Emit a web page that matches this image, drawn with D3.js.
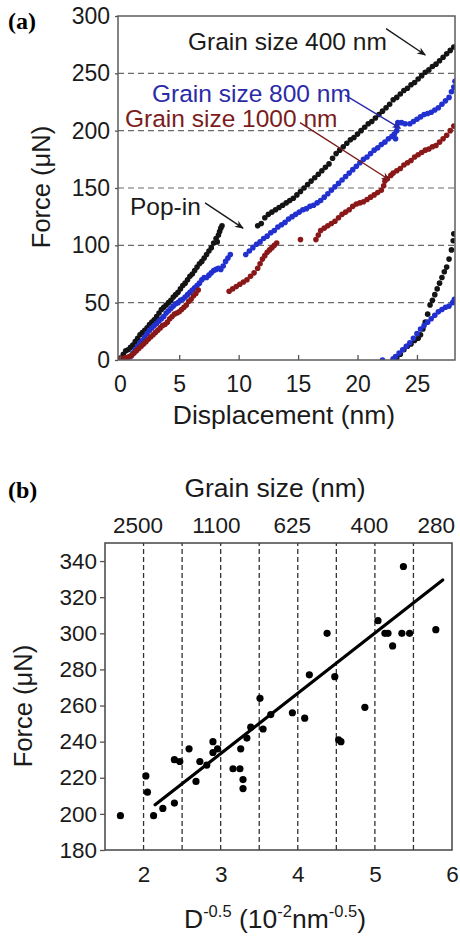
<!DOCTYPE html>
<html>
<head>
<meta charset="utf-8">
<script src="https://cdn.jsdelivr.net/npm/d3@7"></script>
<style>
  body { margin: 0; background: #fff; }
  svg { display: block; font-family: "Liberation Sans", Arial, sans-serif; }
</style>
</head>
<body>
<svg id="chart" width="460" height="938"></svg>
<script>
// ---- panel (a) data: displacement (nm), force (uN) ----
const grain400 = [
  [0.1, 2], [0.3, 5], [0.5, 8], [0.7, 9], [0.9, 11], [1.1, 13], [1.3, 16], [1.5, 19], [1.7, 22], [1.9, 24],
  [2.1, 26], [2.3, 28], [2.5, 31], [2.7, 33], [2.9, 35], [3.1, 38], [3.3, 41], [3.5, 44], [3.7, 46], [3.9, 48],
  [4.1, 50], [4.3, 52], [4.5, 55], [4.7, 57], [4.9, 59], [5.1, 62], [5.3, 65], [5.5, 67], [5.7, 70], [5.9, 73],
  [6.1, 75], [6.3, 78], [6.5, 81], [6.7, 84], [6.9, 86], [7.1, 89], [7.3, 92], [7.5, 95], [7.7, 98], [7.9, 102],
  [8.1, 106], [8.2, 103], [8.3, 109], [8.4, 112], [8.5, 115], [8.6, 117],
  [11.6, 117], [11.9, 119], [12.2, 124], [12.5, 127], [12.8, 129], [13.1, 131], [13.4, 133], [13.7, 135],
  [14.0, 137], [14.3, 139], [14.6, 141], [14.9, 144], [15.2, 147], [15.5, 150], [15.8, 153], [16.1, 156],
  [16.4, 159], [16.7, 162], [17.0, 165], [17.3, 168], [17.6, 171], [17.9, 176], [18.2, 180], [18.5, 183],
  [18.8, 186], [19.1, 189], [19.4, 192], [19.7, 194], [20.0, 197], [20.3, 200], [20.6, 203], [20.9, 206],
  [21.2, 208], [21.5, 211], [21.8, 214], [22.1, 217], [22.4, 220], [22.7, 223], [23.0, 227], [23.3, 229],
  [23.6, 232], [23.9, 235], [24.2, 237], [24.5, 240], [24.8, 242], [25.1, 245], [25.4, 248], [25.7, 251],
  [26.0, 253], [26.3, 256], [26.6, 258], [26.9, 261], [27.2, 264], [27.5, 267], [27.8, 270], [28.1, 273],
  [23.0, 0], [23.3, 2], [23.6, 5], [23.9, 9], [24.2, 12], [24.5, 14], [24.8, 17], [25.1, 19], [25.3, 22],
  [25.5, 27], [25.7, 33], [25.9, 40], [26.1, 48], [26.3, 52], [26.5, 57], [26.7, 62], [26.9, 67], [27.1, 72],
  [27.3, 77], [27.5, 81], [27.7, 88], [27.9, 96], [28.05, 104], [28.1, 110]
];

const grain800 = [
  [0.6, 1], [0.9, 3], [1.1, 6], [1.3, 9], [1.5, 12], [1.7, 15], [1.9, 17], [2.1, 20], [2.3, 23], [2.5, 26],
  [2.7, 28], [2.9, 30], [3.1, 32], [3.3, 34], [3.5, 36], [3.7, 38], [3.9, 41], [4.1, 43], [4.3, 45], [4.5, 47],
  [4.7, 49], [4.9, 50], [5.1, 52], [5.3, 53], [5.5, 55], [5.7, 57], [5.9, 59], [6.1, 61], [6.3, 63], [6.5, 65],
  [6.7, 67], [6.9, 70], [7.1, 72], [7.3, 72], [7.5, 74], [7.7, 76], [7.9, 78], [8.1, 79], [8.3, 80], [8.5, 79],
  [8.7, 82], [8.9, 86], [9.1, 89], [9.3, 92],
  [10.6, 92], [10.9, 95], [11.2, 98], [11.5, 101], [11.8, 103], [12.1, 106], [12.4, 108], [12.7, 111],
  [13.0, 113], [13.3, 116], [13.6, 118], [13.9, 120], [14.2, 123], [14.5, 125], [14.8, 127], [15.1, 129],
  [15.4, 131], [15.7, 132], [16.0, 134], [16.3, 135], [16.6, 137], [16.9, 139], [17.2, 142], [17.5, 145],
  [17.8, 148], [18.1, 151], [18.4, 154], [18.7, 157], [19.0, 160], [19.3, 163], [19.6, 166], [19.9, 169],
  [20.2, 172], [20.5, 175], [20.8, 177], [21.1, 180], [21.4, 183], [21.7, 185], [22.0, 188], [22.3, 190],
  [22.6, 193], [22.9, 195], [23.1, 197], [23.2, 193], [23.3, 200], [23.3, 204], [23.4, 207], [23.7, 207],
  [24.0, 206], [24.4, 206], [24.7, 208], [25.0, 210], [25.3, 212], [25.6, 214], [25.9, 215], [26.2, 216],
  [26.5, 218], [26.8, 220], [27.1, 223], [27.4, 226], [27.7, 229], [27.9, 234], [28.1, 238], [28.2, 243],
  [22.1, 0], [23.0, 1], [23.2, 3], [23.5, 6], [23.8, 9], [24.1, 12], [24.4, 15], [24.7, 19], [25.0, 23],
  [25.3, 27], [25.6, 30], [25.9, 33], [26.2, 36], [26.5, 39], [26.8, 42], [27.1, 44], [27.4, 46], [27.7, 47],
  [28.0, 50], [28.15, 53]
];

const grain1000 = [
  [0.0, 1], [0.2, 1], [0.4, 2], [0.6, 2], [0.8, 3], [1.0, 4], [1.2, 6], [1.4, 8], [1.6, 10], [1.8, 12],
  [2.0, 14], [2.2, 16], [2.4, 18], [2.6, 20], [2.8, 22], [3.0, 24], [3.2, 26], [3.4, 28], [3.6, 30], [3.8, 31],
  [4.0, 33], [4.2, 36], [4.4, 38], [4.6, 40], [4.8, 41], [5.0, 42], [5.2, 44], [5.4, 46], [5.6, 48], [5.8, 51],
  [6.0, 53], [6.2, 56], [6.4, 58], [6.6, 61],
  [9.2, 60], [9.5, 62], [9.8, 64], [10.1, 66], [10.4, 68], [10.7, 70], [11.0, 73], [11.3, 76], [11.6, 80],
  [11.8, 84], [12.0, 88], [12.2, 91], [12.4, 94], [12.6, 96], [12.8, 98], [13.0, 100], [13.2, 102],
  [15.2, 105],
  [16.5, 105], [16.7, 109], [16.9, 113], [17.2, 115], [17.5, 117], [17.8, 119], [18.1, 121], [18.4, 124],
  [18.7, 127], [19.0, 129], [19.3, 131], [19.6, 134], [19.9, 136], [20.2, 137], [20.5, 138], [20.8, 140],
  [21.1, 142], [21.4, 144], [21.7, 146], [22.0, 148], [22.2, 152], [22.3, 156], [22.5, 158], [22.8, 161],
  [23.0, 163], [23.3, 165], [23.6, 167], [23.9, 170], [24.2, 172], [24.5, 174], [24.8, 177], [25.1, 179],
  [25.4, 181], [25.7, 183], [26.0, 184], [26.3, 186], [26.6, 187], [26.9, 190], [27.2, 193], [27.5, 196],
  [27.8, 200], [28.1, 204]
];

const aTicksX = [0, 5, 10, 15, 20, 25];
const aTicksY = [0, 50, 100, 150, 200, 250, 300];
const aGrid = [50, 100, 150, 200, 250];

// annotations in data units: text start, arrow from -> to
const aNotes = [
  { text: "Grain size 400 nm", color: "#1a1a1a", at: [5.74, 270], from: [22.4, 289], to: [25.7, 266] },
  { text: "Grain size 800 nm", color: "#2b2ba8", at: [2.71, 225], from: [18.95, 231], to: [23.6, 202] },
  { text: "Grain size 1000 nm", color: "#7b1c1c", at: [0.44, 203], from: [15.16, 207], to: [22.7, 157] },
  { text: "Pop-in", color: "#1a1a1a", at: [0.86, 126.5], from: [7.17, 137], to: [10.37, 115] }
];

// ---- panel (b) data: D^-0.5 (1e-2 nm^-0.5), force (uN) ----
const popInX = [1.70, 2.03, 2.05, 2.13, 2.25, 2.40, 2.40, 2.47, 2.59, 2.68, 2.73, 2.82, 2.90, 2.90, 2.96,
  3.16, 3.25, 3.26, 3.29, 3.29, 3.34, 3.39, 3.51, 3.55, 3.65, 3.93, 4.09, 4.15, 4.38, 4.48, 4.53, 4.56,
  4.87, 5.04, 5.13, 5.17, 5.23, 5.35, 5.37, 5.45, 5.79];
const popInF = [199, 221, 212, 199, 203, 206, 230, 229, 236, 218, 229, 227, 240, 234, 236,
  225, 225, 236, 219, 214, 242, 248, 264, 247, 255, 256, 253, 277, 300, 276, 241, 240,
  259, 307, 300, 300, 293, 300, 337, 300, 302];
const fitLine = [[2.15, 205], [5.88, 329.5]];
const bTicksX = [2, 3, 4, 5, 6];
const bTicksY = [180, 200, 220, 240, 260, 280, 300, 320, 340];
const bGrid = [2, 2.5, 3, 3.5, 4, 4.5, 5, 5.5];
const grainSizes = [2500, 1100, 625, 400, 280];

const svg = d3.select("#chart");
svg.append("rect").attr("width", 460).attr("height", 938).attr("fill", "#fff");

svg.append("defs")
  .selectAll("marker")
  .data(aNotes)
  .enter()
  .append("marker")
  .attr("id", (d, i) => `head${i}`)
  .attr("viewBox", "0 0 10 10")
  .attr("refX", 9)
  .attr("refY", 5)
  .attr("markerUnits", "userSpaceOnUse")
  .attr("markerWidth", 11)
  .attr("markerHeight", 9)
  .attr("orient", "auto")
  .append("path")
  .attr("d", "M0,1 L10,5 L0,9 L3,5 Z")
  .attr("fill", (d) => d.color);

function styleAxis(g, size) {
  g.select(".domain").remove();
  g.selectAll("text")
    .attr("font-size", size)
    .attr("fill", "#1a1a1a")
    .attr("font-family", "Liberation Sans, Arial, sans-serif");
  g.selectAll("line").attr("stroke", "#555").attr("stroke-width", 1.3);
}

function drawPanelA() {
  const x = d3.scaleLinear().domain([-0.15, 28.2]).range([118, 455]);
  const y = d3.scaleLinear().domain([0, 300]).range([360, 16]);
  const g = svg.append("g");

  g.selectAll(".gridA")
    .data(aGrid)
    .enter()
    .append("line")
    .attr("x1", x.range()[0])
    .attr("x2", x.range()[1])
    .attr("y1", (d) => y(d))
    .attr("y2", (d) => y(d))
    .attr("stroke", "#6a6a6a")
    .attr("stroke-width", 1.2)
    .attr("stroke-dasharray", "6,4");

  const series = [
    { pts: grain400, color: "#141414" },
    { pts: grain800, color: "#2130cf" },
    { pts: grain1000, color: "#8a1818" }
  ];
  // clip so points cut at the frame
  svg.select("defs").append("clipPath").attr("id", "clipA")
    .append("rect").attr("x", 118).attr("y", 16).attr("width", 337).attr("height", 344);

  const dots = g.append("g").attr("clip-path", "url(#clipA)");
  series.forEach((s) => {
    dots.selectAll(null)
      .data(s.pts)
      .enter()
      .append("circle")
      .attr("cx", (d) => x(d[0]))
      .attr("cy", (d) => y(d[1]))
      .attr("r", 2.8)
      .attr("fill", s.color);
  });

  g.append("rect")
    .attr("x", 118).attr("y", 16).attr("width", 337).attr("height", 344)
    .attr("fill", "none").attr("stroke", "#5c5c5c").attr("stroke-width", 1.5);

  g.append("g")
    .attr("transform", "translate(118,0)")
    .call(d3.axisLeft(y).tickValues(aTicksY).tickSize(3).tickPadding(5))
    .call(styleAxis, 23);

  g.append("g")
    .attr("transform", "translate(0,360)")
    .call(d3.axisBottom(x).tickValues(aTicksX).tickSizeInner(-5).tickSizeOuter(0).tickPadding(16))
    .call(styleAxis, 23);

  g.selectAll(".note")
    .data(aNotes)
    .enter()
    .append("text")
    .attr("x", (d) => x(d.at[0]))
    .attr("y", (d) => y(d.at[1]))
    .attr("font-size", 24.5)
    .attr("fill", (d) => d.color)
    .text((d) => d.text);

  g.selectAll(".arrow")
    .data(aNotes)
    .enter()
    .append("line")
    .attr("x1", (d) => x(d.from[0]))
    .attr("y1", (d) => y(d.from[1]))
    .attr("x2", (d) => x(d.to[0]))
    .attr("y2", (d) => y(d.to[1]))
    .attr("stroke", (d) => d.color)
    .attr("stroke-width", 1.4)
    .attr("marker-end", (d, i) => `url(#head${i})`);

  g.append("text")
    .attr("x", 284).attr("y", 424)
    .attr("text-anchor", "middle")
    .attr("font-size", 26.5)
    .attr("fill", "#1a1a1a")
    .text("Displacement (nm)");

  g.append("text")
    .attr("transform", "translate(50,187) rotate(-90)")
    .attr("text-anchor", "middle")
    .attr("font-size", 25.5)
    .attr("fill", "#1a1a1a")
    .text("Force (\u03bcN)");

  g.append("text")
    .attr("x", 8).attr("y", 29)
    .attr("font-family", "Liberation Serif, Times New Roman, serif")
    .attr("font-weight", "bold")
    .attr("font-size", 24)
    .text("(a)");
}

function drawPanelB() {
  const x = d3.scaleLinear().domain([1.5, 6]).range([105, 452]);
  const y = d3.scaleLinear().domain([180, 350]).range([850, 543]);
  const g = svg.append("g");

  g.selectAll(".gridB")
    .data(bGrid)
    .enter()
    .append("line")
    .attr("x1", (d) => x(d))
    .attr("x2", (d) => x(d))
    .attr("y1", y.range()[0])
    .attr("y2", y.range()[1])
    .attr("stroke", "#333")
    .attr("stroke-width", 1.3)
    .attr("stroke-dasharray", "5,3");

  const pts = popInX.map((v, i) => [v, popInF[i]]);

  g.append("line")
    .attr("x1", x(fitLine[0][0]))
    .attr("y1", y(fitLine[0][1]))
    .attr("x2", x(fitLine[1][0]))
    .attr("y2", y(fitLine[1][1]))
    .attr("stroke", "#000")
    .attr("stroke-width", 3.2)
    .attr("stroke-linecap", "round");

  g.selectAll(".pt")
    .data(pts)
    .enter()
    .append("circle")
    .attr("cx", (d) => x(d[0]))
    .attr("cy", (d) => y(d[1]))
    .attr("r", 3.6)
    .attr("fill", "#000");

  g.append("rect")
    .attr("x", 105).attr("y", 543).attr("width", 347).attr("height", 307)
    .attr("fill", "none").attr("stroke", "#444").attr("stroke-width", 1.5);

  g.append("g")
    .attr("transform", "translate(105,0)")
    .call(d3.axisLeft(y).tickValues(bTicksY).tickSize(5).tickPadding(3))
    .call(styleAxis, 22.5);

  g.append("g")
    .attr("transform", "translate(0,850)")
    .call(d3.axisBottom(x).tickValues(bTicksX).tickFormat(d3.format("d")).tickSize(0).tickPadding(16))
    .call(styleAxis, 22.5);

  // top axis: grain size D placed at D^-0.5
  const topAxis = g.append("g")
    .attr("transform", "translate(0,543)")
    .call(d3.axisTop(x).tickValues(grainSizes.map((d) => 100 / Math.sqrt(d)))
      .tickFormat((v, i) => grainSizes[i])
      .tickSize(0).tickPadding(10))
    .call(styleAxis, 22.5);
  // nudge labels left and keep the last one inside the picture
  topAxis.selectAll(".tick").each(function () {
    const t = d3.select(this).select("text");
    const b = t.node().getBBox();
    const tx = +d3.select(this).attr("transform").match(/translate\(([-\d.]+)/)[1];
    const over = Math.max(0, tx + b.x + b.width - 6 - 455);
    t.attr("dx", -6 - over);
  });

  g.append("text")
    .attr("x", 275).attr("y", 497)
    .attr("text-anchor", "middle")
    .attr("font-size", 26.5)
    .attr("fill", "#1a1a1a")
    .text("Grain size (nm)");

  g.append("text")
    .attr("transform", "translate(32,706) rotate(-90)")
    .attr("text-anchor", "middle")
    .attr("font-size", 25.5)
    .attr("fill", "#1a1a1a")
    .text("Force (\u03bcN)");

  const xt = g.append("text")
    .attr("x", 275).attr("y", 928)
    .attr("text-anchor", "middle")
    .attr("font-size", 26.5)
    .attr("fill", "#1a1a1a");
  xt.append("tspan").text("D");
  xt.append("tspan").attr("dy", -11).attr("font-size", 16.5).text("-0.5");
  xt.append("tspan").attr("dy", 11).text(" (10");
  xt.append("tspan").attr("dy", -11).attr("font-size", 16.5).text("-2");
  xt.append("tspan").attr("dy", 11).text("nm");
  xt.append("tspan").attr("dy", -11).attr("font-size", 16.5).text("-0.5");
  xt.append("tspan").attr("dy", 11).text(")");

  g.append("text")
    .attr("x", 8).attr("y", 498)
    .attr("font-family", "Liberation Serif, Times New Roman, serif")
    .attr("font-weight", "bold")
    .attr("font-size", 24)
    .text("(b)");
}

drawPanelA();
drawPanelB();
</script>
</body>
</html>
